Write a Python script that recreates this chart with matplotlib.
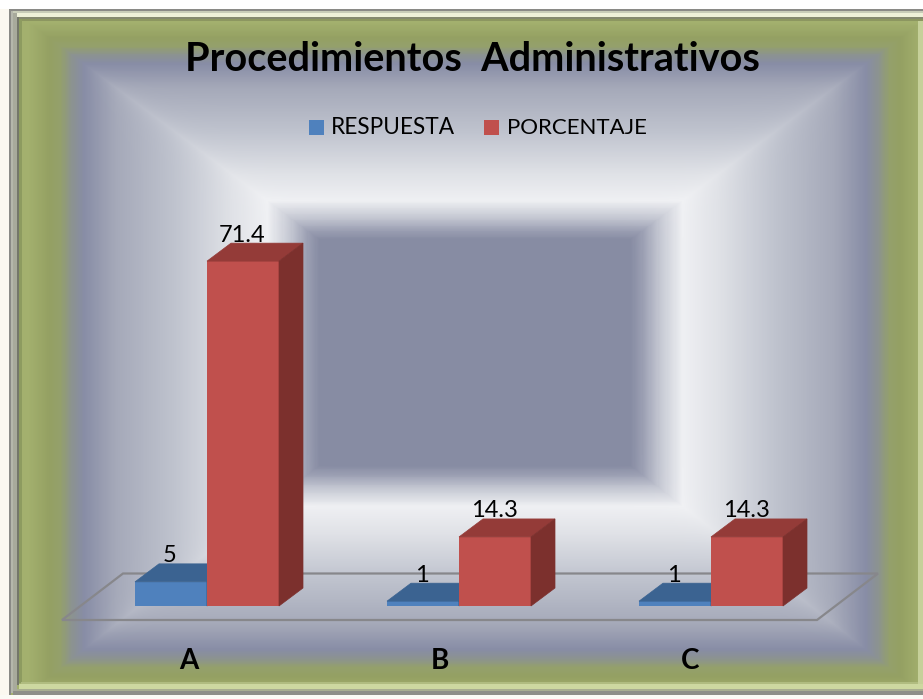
import numpy as np
import matplotlib
matplotlib.use("Agg")
import matplotlib.pyplot as plt
from matplotlib.colors import LinearSegmentedColormap
from matplotlib.patches import Polygon, Rectangle

plt.rcParams["font.family"] = ["Lato", "DejaVu Sans"]

W, H = 923, 699

title = "Procedimientos  Administrativos"
categories = ["A", "B", "C"]
respuesta = [5, 1, 1]
porcentaje = [71.4, 14.3, 14.3]
series_names = ["RESPUESTA", "PORCENTAJE"]

# pixels per category / per value unit on the chart
PX_X = 252.0
PX_Y = 4.83
BAR_W = 72 / PX_X
DX = 24 / PX_X
DY = 18 / PX_Y

fig = plt.figure(figsize=(W / 100, H / 100), dpi=100)
fig.patch.set_facecolor("white")

# background, in pixel coordinates
bg = fig.add_axes([0, 0, 1, 1])
bg.set_xlim(0, W)
bg.set_ylim(H, 0)
bg.axis("off")

yy, xx = np.mgrid[0:H, 0:W] + 0.5
left = (320 - xx) / 292
right = (xx - 630) / 292
top = (240 - yy) / 218
bottom = (yy - 465) / 228
stack = np.sort(np.stack([left, right, top, bottom]), axis=0)
t = np.clip(stack[-1], 0, 1)
# lighter ridge along the corner diagonals
ridge = np.exp(-(stack[-1] - stack[-2]) / 0.05) * np.clip(t / 0.2, 0, 1) * np.clip((0.8 - t) / 0.15, 0, 1)

cmap = LinearSegmentedColormap.from_list("frame", [
    (0.0, "#878ca3"), (0.04, "#9a9eb2"), (0.1, "#c4c7d2"), (0.18, "#eff0f3"), (0.3, "#e0e2e7"),
    (0.5, "#bfc3ce"), (0.7, "#a5a9b9"), (0.81, "#888da6"), (0.85, "#8c9391"),
    (0.89, "#94a06c"), (0.93, "#95a163"), (1.0, "#a3b06e")])
rgb = cmap(t)[..., :3]
rgb = rgb + (1 - rgb) * ridge[..., None] * 0.1
bg.imshow(rgb, extent=(0, W, H, 0), aspect="auto", zorder=0, interpolation="bilinear")

# bevelled picture frame: (x0, y0, x1, y1, colour)
frame_strips = [
    (0, 0, 9, H, "#fbf8f0"), (0, 0, W, 9, "#ffffff"), (0, 695, W, H, "#fbfaf5"),
    (9, 9, W, 11, "#8a8a86"), (11, 11, W, 13, "#c8ccb8"), (13, 13, W, 17, "#eef0d8"),
    (17, 17, W, 19, "#85896f"), (19, 19, W, 21, "#8c9660"),
    (9, 9, 11, 695, "#8a8a86"), (11, 11, 13, 693, "#b5b7ac"), (13, 13, 17, 691, "#a8aa9c"),
    (17, 17, 19, 685, "#74776a"), (19, 19, 22, 683, "#8d9b60"),
    (13, 691, W, 695, "#8e8e88"), (17, 689, W, 691, "#a8ad90"), (19, 684, W, 689, "#cdd8a0"),
    (21, 682, W, 684, "#b0bc80"), (918, 21, W, 684, "#c6d09a"),
]
for x0, y0, x1, y1, col in frame_strips:
    bg.add_patch(Rectangle((x0, y0), x1 - x0, y1 - y0, fc=col, ec="none", zorder=1))

# chart axes: x in category units, y in value units
ax = fig.add_axes([0, 0, 1, 1])
ax.patch.set_alpha(0)
ax.set_xlim(-207 / PX_X, (W - 207) / PX_X)
ax.set_ylim(-(H - 606) / PX_Y, 606 / PX_Y)
ax.axis("off")

x = np.arange(len(categories))

# floor
floor_x0, floor_x1 = -145 / PX_X, 610 / PX_X
floor_low, floor_high = -14 / PX_Y, 32.5 / PX_Y
floor_dx = 61 / PX_X
ax.add_patch(Polygon([(floor_x0, floor_low), (floor_x1, floor_low),
                      (floor_x1 + floor_dx, floor_high), (floor_x0 + floor_dx, floor_high)],
                     closed=True, fill=False, ec="#87878b", lw=1.6, zorder=2))


def bars_3d(xs, values, front, top_col, side):
    ax.bar(xs, values, width=BAR_W, align="edge", color=front, zorder=3)
    for x0, v in zip(xs, values):
        x1 = x0 + BAR_W
        ax.add_patch(Polygon([(x0, v), (x1, v), (x1 + DX, v + DY), (x0 + DX, v + DY)],
                             closed=True, fc=top_col, ec=top_col, lw=0.5, zorder=3))
        ax.add_patch(Polygon([(x1, 0), (x1 + DX, DY), (x1 + DX, v + DY), (x1, v)],
                             closed=True, fc=side, ec=side, lw=0.5, zorder=3))
        ax.text(x0 + BAR_W / 2 - 1 / PX_X, v + DY + 1.5 / PX_Y, f"{v:g}", ha="center", va="baseline",
                fontsize=17, color="black", zorder=5)


bars_3d(x - BAR_W, respuesta, "#4f81bd", "#3b6391", "#2f4f75")
bars_3d(x, porcentaje, "#c0504d", "#943b38", "#7c302d")

# category labels sit slightly tighter than the bars
for xi, cat in zip(x, categories):
    ax.text(xi * 250.5 / PX_X - 18 / PX_X, -(669 - 606) / PX_Y, cat, ha="center", va="baseline",
            fontsize=20, fontweight="bold", color="black", zorder=5)

# title and legend
bg.text(472, 71, title, ha="center", va="baseline", fontsize=28.5, fontweight="bold", color="black", zorder=5)
bg.add_patch(Rectangle((309, 120), 15, 15, fc="#4f81bd", ec="none", zorder=5))
bg.add_patch(Rectangle((484, 120), 15, 15, fc="#c0504d", ec="none", zorder=5))
bg.text(331, 134, series_names[0], ha="left", va="baseline", fontsize=16.3, color="black", zorder=5)
bg.text(507, 134, series_names[1], ha="left", va="baseline", fontsize=16, color="black", zorder=5)

fig.savefig("out.png", dpi=100)
